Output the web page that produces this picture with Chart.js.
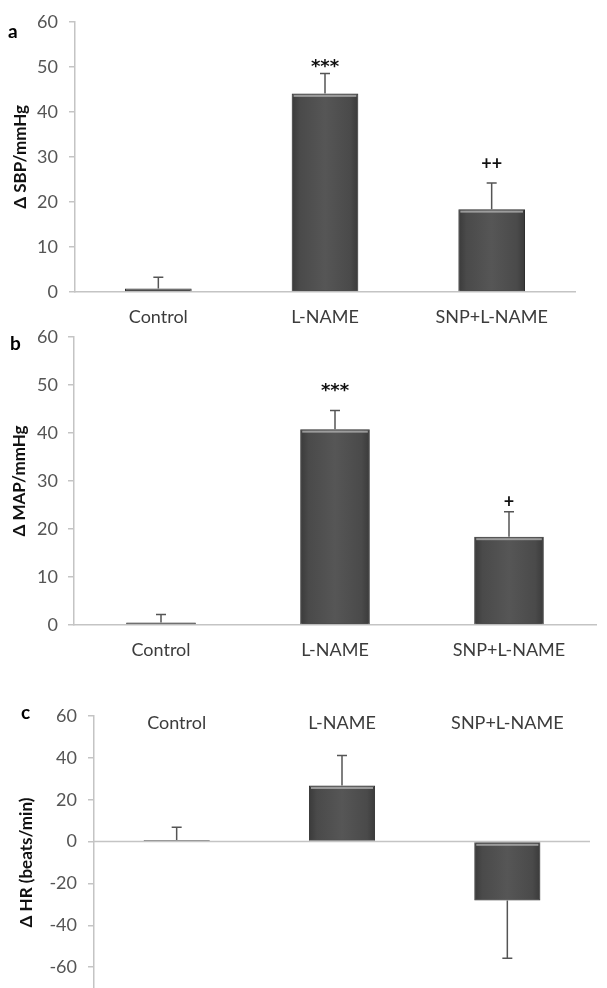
<!DOCTYPE html>
<html><head><meta charset="utf-8">
<script src="https://cdn.jsdelivr.net/npm/chart.js@4.4.0/dist/chart.umd.min.js"></script>
<style>
html,body{margin:0;padding:0;background:#fff;overflow:hidden;width:607px;height:988px}
canvas{position:absolute;left:0;top:0}
</style></head><body>
<canvas id="ca" width="607" height="988"></canvas>
<canvas id="cb" width="607" height="988"></canvas>
<canvas id="cc" width="607" height="1040"></canvas>
<script>
// ---- data ----
const categories = ['Control', 'L-NAME', 'SNP+L-NAME'];
const sbpMeans  = [0.8, 44.1, 18.4];
const sbpErrors = [2.5, 4.4, 5.8];
const sbpMarks  = ['', '***', '++'];
const mapMeans  = [0.5, 40.8, 18.4];
const mapErrors = [1.7, 3.9, 5.2];
const mapMarks  = ['', '***', '+'];
const hrMeans   = [0.8, 26.8, -28.2];
const hrErrors  = [6.1, 14.3, 27.6];
const hrMarks   = ['', '', ''];
const pressureTicks = [0, 10, 20, 30, 40, 50, 60];
const hrTicks = [-80, -60, -40, -20, 0, 20, 40, 60];
const panelLetters = ['a', 'b', 'c'];
const yTitles = ['\u0394 SBP/mmHg', '\u0394 MAP/mmHg', '\u0394 HR (beats/min)'];

// ---- style ----
const FONT = 'Lato, "Open Sans", sans-serif';
const AXIS_COL = '#c4c4c4';
const TICK_COL = '#555555';
const LABEL_COL = '#3c3c3c';

const panelPlugin = {
  id: 'panelExtras',
  beforeDatasetsDraw(chart, args, opts) {
    if (!opts.zeroLine) return;
    const ctx = chart.ctx, a = chart.chartArea;
    const y = chart.scales.y.getPixelForValue(0);
    ctx.save();
    ctx.strokeStyle = AXIS_COL;
    ctx.lineWidth = 1.5;
    ctx.beginPath();
    ctx.moveTo(a.left, y);
    ctx.lineTo(a.right, y);
    ctx.stroke();
    ctx.restore();
  },
  afterDatasetsDraw(chart, args, opts) {
    const ctx = chart.ctx;
    const meta = chart.getDatasetMeta(0);
    const ys = chart.scales.y;
    const ds = chart.data.datasets[0];
    ctx.save();
    meta.data.forEach((bar, i) => {
      const v = ds.data[i];
      const top = Math.min(bar.y, bar.base), bot = Math.max(bar.y, bar.base);
      const left = bar.x - bar.width / 2;
      if (bot - top > 6) {
        const g = ctx.createLinearGradient(left, 0, left + bar.width, 0);
        g.addColorStop(0, '#3a3a3a');
        g.addColorStop(0.12, '#4a4a4a');
        g.addColorStop(0.5, '#565656');
        g.addColorStop(0.88, '#4a4a4a');
        g.addColorStop(1, '#3a3a3a');
        ctx.fillStyle = g;
        ctx.fillRect(left + 1, top + 1, bar.width - 2, bot - top - 2);
        ctx.fillStyle = 'rgba(175,175,175,0.8)';
        ctx.fillRect(left + 2, top + 1.5, bar.width - 4, 2);
      }
      // error bar (one-sided, away from zero)
      const e = opts.errors[i];
      const endVal = v >= 0 ? v + e : v - e;
      const y0 = ys.getPixelForValue(v);
      const y1 = ys.getPixelForValue(endVal);
      ctx.strokeStyle = '#555';
      ctx.lineWidth = 1.5;
      ctx.beginPath();
      ctx.moveTo(bar.x, y0);
      ctx.lineTo(bar.x, y1);
      ctx.moveTo(bar.x - 5, y1);
      ctx.lineTo(bar.x + 5, y1);
      ctx.stroke();
      // significance marks
      const m = opts.marks[i];
      if (m) {
        ctx.fillStyle = '#111';
        ctx.font = m.indexOf('*') >= 0 ? 'bold 18px "DejaVu Sans", sans-serif' : 'bold 18px ' + FONT;
        ctx.textAlign = 'center';
        ctx.textBaseline = 'alphabetic';
        ctx.fillText(m, bar.x, y1 - opts.markOffsets[i]);
      }
    });
    // category labels drawn inside the plot (panel c)
    if (opts.innerLabels) {
      const xs = chart.scales.x;
      ctx.fillStyle = LABEL_COL;
      ctx.font = '18px ' + FONT;
      ctx.textAlign = 'center';
      ctx.textBaseline = 'middle';
      chart.data.labels.forEach((lab, i) => {
        ctx.fillText(lab, xs.getPixelForValue(i), opts.innerLabelY);
      });
    }
    // panel letter
    ctx.fillStyle = '#000';
    ctx.font = 'bold 19px ' + FONT;
    ctx.textAlign = 'left';
    ctx.textBaseline = 'middle';
    ctx.fillText(opts.letter, opts.letterX, opts.letterY);
    ctx.restore();
  }
};

function makeChart(id, cfg) {
  return new Chart(document.getElementById(id), {
    type: 'bar',
    data: {
      labels: categories,
      datasets: [{
        data: cfg.means,
        backgroundColor: '#4c4c4c',
        borderColor: '#2e2e2e',
        borderWidth: 1,
        barPercentage: 0.40,
        categoryPercentage: 1.0
      }]
    },
    options: {
      responsive: false,
      animation: false,
      events: [],
      layout: { padding: cfg.padding },
      plugins: {
        legend: { display: false },
        tooltip: { enabled: false },
        panelExtras: cfg.extras
      },
      scales: {
        x: {
          display: cfg.xDisplay,
          grid: { display: false, drawTicks: false },
          border: { display: true, color: AXIS_COL, width: 1.5 },
          ticks: { color: LABEL_COL, font: { family: FONT, size: 18 }, padding: 14, maxRotation: 0 },
          afterFit: s => { s.height = cfg.xHeight; }
        },
        y: {
          min: cfg.min, max: cfg.max,
          afterBuildTicks: s => { s.ticks = cfg.ticks.map(v => ({ value: v })); },
          grid: {
            display: true, drawTicks: true, tickLength: 6,
            drawOnChartArea: false,
            color: AXIS_COL, lineWidth: 1.5
          },
          border: { display: true, color: AXIS_COL, width: 1.5 },
          ticks: { color: TICK_COL, font: { family: FONT, size: 18 }, padding: cfg.tickPad },
          title: {
            display: true, text: cfg.title, color: '#111',
            font: { family: FONT, size: 17, weight: 'bold' },
            padding: { top: cfg.titlePad, bottom: 0 }
          },
          afterFit: s => { s.width = cfg.yWidth; }
        }
      }
    },
    plugins: [panelPlugin]
  });
}

makeChart('ca', {
  means: sbpMeans, min: 0, max: 60, ticks: pressureTicks, title: yTitles[0],
  padding: { left: 0, top: 21, right: 32, bottom: 658 },
  xDisplay: true, xHeight: 38, yWidth: 75, tickPad: 11, titlePad: 10,
  extras: { errors: sbpErrors, marks: sbpMarks, markOffsets: [0, 2, 13],
            letter: panelLetters[0], letterX: 8, letterY: 32 }
});
makeChart('cb', {
  means: mapMeans, min: 0, max: 60, ticks: pressureTicks, title: yTitles[1],
  padding: { left: 0, top: 337, right: 11, bottom: 323 },
  xDisplay: true, xHeight: 40, yWidth: 74, tickPad: 10, titlePad: 9,
  extras: { errors: mapErrors, marks: mapMarks, markOffsets: [0, 14, 4],
            letter: panelLetters[1], letterX: 10, letterY: 344 }
});
makeChart('cc', {
  means: hrMeans, min: -80, max: 60, ticks: hrTicks, title: yTitles[2],
  padding: { left: 0, top: 716, right: 17, bottom: 31 },
  xDisplay: false, xHeight: 0, yWidth: 94, tickPad: 11, titlePad: 16,
  extras: { errors: hrErrors, marks: hrMarks, markOffsets: [0, 0, 0],
            letter: panelLetters[2], letterX: 21, letterY: 713,
            innerLabels: true, innerLabelY: 723, zeroLine: true }
});
</script>
</body></html>
